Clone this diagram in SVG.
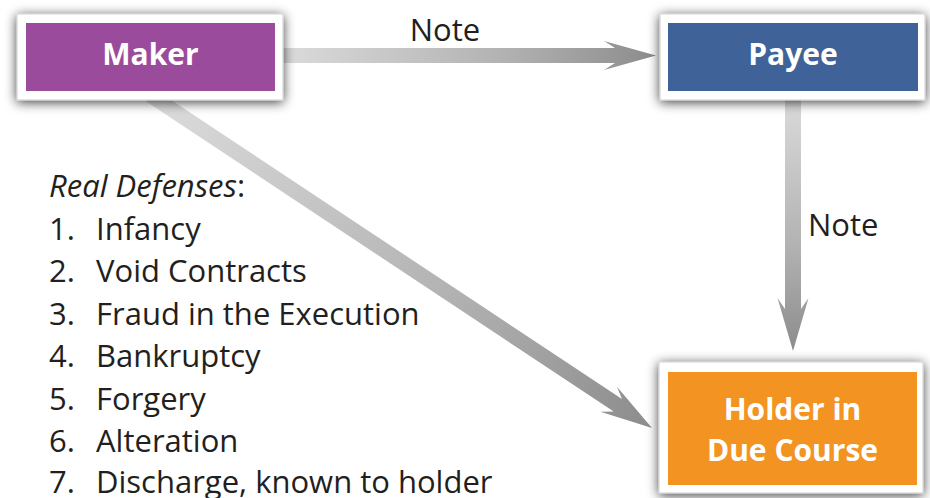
<svg xmlns="http://www.w3.org/2000/svg" width="930" height="498" viewBox="0 0 930 498">
<defs>
<style>
.frame{fill:#ffffff;stroke:#cfcfcf;stroke-width:1}
.lbl{font-family:"Open Sans","Liberation Sans",sans-serif;font-weight:bold;font-size:30px;fill:#ffffff;text-anchor:middle}
.txt{font-family:"Open Sans","Liberation Sans",sans-serif;font-size:31px;fill:#231f20}
.it{font-style:italic}
.arrow{fill:url(#ag)}
</style>
<filter id="sh" x="-20%" y="-40%" width="140%" height="180%">
<feDropShadow dx="0" dy="2" stdDeviation="6" flood-color="#000" flood-opacity="0.75"/>
</filter>
<linearGradient id="ag" x1="0" y1="0" x2="1" y2="0">
<stop offset="0" stop-color="#dcdcdc"/>
<stop offset="0.6" stop-color="#b2b2b2"/>
<stop offset="1" stop-color="#8c8c8c"/>
</linearGradient>
</defs>
<rect width="930" height="498" fill="#ffffff"/>
<g id="connectors">
<g id="maker-payee" transform="translate(656,55.5)">
<polygon class="arrow" points="-380,-7.5 -41,-7.5 -52,-14.5 0,0 -52,14.5 -41,7.5 -380,7.5"/>
</g>
<g id="payee-holder" transform="translate(793,351) rotate(90)">
<polygon class="arrow" points="-260,-8 -42,-8 -53,-15.5 0,0 -53,15.5 -42,8 -260,8"/>
</g>
<g id="maker-holder" transform="translate(652,428) rotate(33.56)">
<polygon class="arrow" points="-602,-7.5 -41,-7.5 -52,-15 0,0 -52,15 -41,7.5 -602,7.5"/>
</g>
<text class="txt" x="445" y="41" text-anchor="middle">Note</text>
<text class="txt" x="808" y="236">Note</text>
</g>
<g id="maker">
<rect class="frame" x="17" y="14" width="266" height="86" filter="url(#sh)"/>
<rect x="26" y="23" width="249" height="68" fill="#9b4b9b"/>
<text class="lbl" x="150.5" y="65">Maker</text>
</g>
<g id="payee">
<rect class="frame" x="660" y="14" width="265" height="86" filter="url(#sh)"/>
<rect x="668" y="23" width="250" height="68" fill="#3f6399"/>
<text class="lbl" x="793" y="65">Payee</text>
</g>
<g id="holder">
<rect class="frame" x="659" y="362" width="264" height="131" filter="url(#sh)"/>
<rect x="668" y="372" width="249" height="113" fill="#f39322"/>
<text class="lbl" x="792.5" y="420">Holder in</text>
<text class="lbl" x="792.5" y="461">Due Course</text>
</g>
<g id="defenses" class="txt">
<text x="49" y="197"><tspan class="it">Real Defenses</tspan>:</text>
<text y="240"><tspan x="49">1.</tspan><tspan x="96">Infancy</tspan></text>
<text y="282"><tspan x="49">2.</tspan><tspan x="96">Void Contracts</tspan></text>
<text y="325"><tspan x="49">3.</tspan><tspan x="96">Fraud in the Execution</tspan></text>
<text y="367"><tspan x="49">4.</tspan><tspan x="96">Bankruptcy</tspan></text>
<text y="410"><tspan x="49">5.</tspan><tspan x="96">Forgery</tspan></text>
<text y="452"><tspan x="49">6.</tspan><tspan x="96">Alteration</tspan></text>
<text y="493"><tspan x="49">7.</tspan><tspan x="96">Discharge, known to holder</tspan></text>
</g>
</svg>
